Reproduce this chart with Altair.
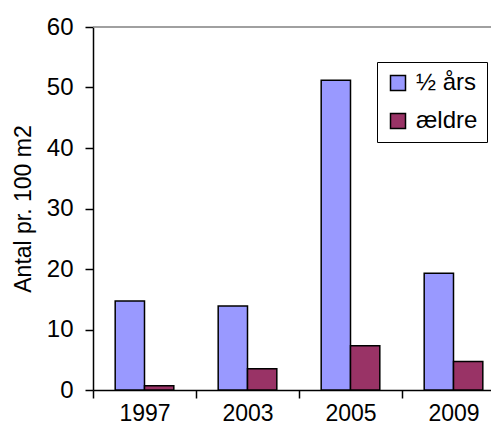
import altair as alt
import pandas as pd

years = ["1997", "2003", "2005", "2009"]
series = ["½ års", "ældre"]
halv_aars = [14.7, 13.9, 51.2, 19.3]
aeldre = [0.7, 3.5, 7.3, 4.7]
colors = ["#9999FF", "#993366"]
y_ticks = [0, 10, 20, 30, 40, 50, 60]

rows = []
for i, yr in enumerate(years):
    rows.append({"year": yr, "serie": series[0], "value": halv_aars[i]})
    rows.append({"year": yr, "serie": series[1], "value": aeldre[i]})
df = pd.DataFrame(rows)

FONT = "Liberation Sans"
FS = 24

bars = alt.Chart(df).mark_bar(stroke="black", strokeWidth=1.5).encode(
    x=alt.X("year:N", sort=years,
            scale=alt.Scale(paddingInner=0, paddingOuter=0, range=[0, 412]),
            axis=alt.Axis(title=None, labelAngle=0, tickBand="extent",
                          labelFontSize=23, labelFont=FONT, labelColor="black",
                          labelPadding=4, tickSize=8, tickColor="black",
                          tickWidth=1.5, domainColor="black", domainWidth=1.5)),
    xOffset=alt.XOffset("serie:N", sort=series,
                        scale=alt.Scale(paddingInner=0, paddingOuter=0.757)),
    y=alt.Y("value:Q",
            scale=alt.Scale(domain=[0, 60], nice=False, zero=True),
            axis=alt.Axis(title="Antal pr. 100 m2", values=y_ticks, grid=False,
                          labelFontSize=FS, labelFont=FONT, labelColor="black",
                          labelPadding=12, tickSize=8, tickColor="black",
                          tickWidth=1.5, domainColor="black", domainWidth=1.5,
                          titleFont=FONT, titleFontSize=23, titleFontWeight="normal",
                          titleColor="black", titlePadding=11)),
    color=alt.Color("serie:N", sort=series,
                    scale=alt.Scale(domain=series, range=colors),
                    legend=alt.Legend(title=None, orient="none", legendX=284, legendY=35,
                                      symbolType="square", symbolSize=225,
                                      symbolStrokeColor="black", symbolStrokeWidth=1.5,
                                      labelFontSize=FS, labelFont=FONT, labelColor="black",
                                      labelOffset=6, rowPadding=14, padding=9,
                                      strokeColor="black", fillColor="white")),
)

top_rule = alt.Chart(pd.DataFrame({"v": [60]})).mark_rule(
    color="#808080", strokeWidth=1.5
).encode(y=alt.Y("v:Q"))

chart = alt.layer(top_rule, bars).properties(
    width=398, height=363,
    padding={"left": 85, "top": 19, "right": 0, "bottom": 39},
    autosize=alt.AutoSizeParams(type="none"),
).configure_view(stroke=None).configure_legend(symbolOpacity=1)

chart.save("out.html", embed_options={"renderer": "svg", "actions": False})
